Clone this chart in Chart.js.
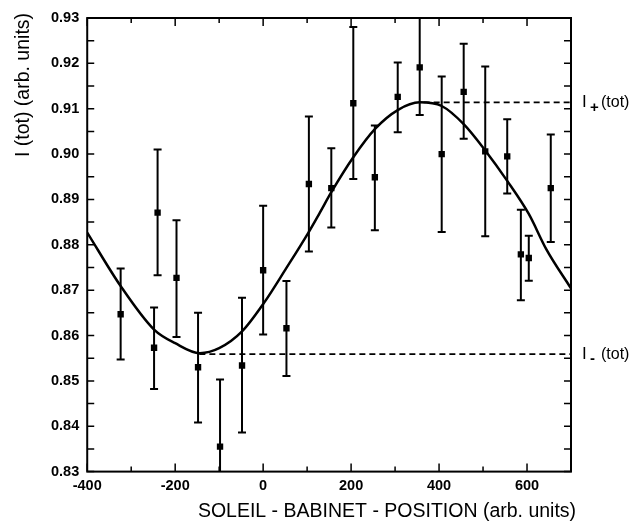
<!DOCTYPE html>
<html>
<head>
<meta charset="utf-8">
<script src="https://cdn.jsdelivr.net/npm/chart.js@4/dist/chart.umd.min.js"></script>
<style>
  html, body { margin: 0; padding: 0; background: #fff; }
  #wrap { width: 639px; height: 523px; }
</style>
</head>
<body>
<div id="wrap"><canvas id="sbChart" width="639" height="523"></canvas></div>
<script>
// measured points (position, I(tot)) with error bar ends
var posX   = [-324, -248, -240, -197, -148, -98, -48, 0, 53, 104, 155, 205, 254, 306, 356, 406, 456, 505, 555, 586, 604, 654];
var iTot   = [0.8647, 0.8573, 0.8871, 0.8727, 0.8530, 0.8355, 0.8534, 0.8744, 0.8616, 0.8934, 0.8925, 0.9112, 0.8949, 0.9126, 0.9191, 0.9000, 0.9137, 0.9006, 0.8995, 0.8779, 0.8771, 0.8925];
var errLow = [0.8547, 0.8482, 0.8733, 0.8597, 0.8408, 0.8205, 0.8386, 0.8602, 0.8511, 0.8785, 0.8838, 0.8945, 0.8832, 0.9048, 0.9086, 0.8828, 0.9034, 0.8819, 0.8913, 0.8678, 0.8721, 0.8806];
var errHigh= [0.8748, 0.8662, 0.9010, 0.8854, 0.8650, 0.8503, 0.8683, 0.8886, 0.8720, 0.9083, 0.9013, 0.9280, 0.9063, 0.9202, 0.9320, 0.9171, 0.9243, 0.9193, 0.9077, 0.8877, 0.8820, 0.9043];

// fitted curve
var fitX = [-400, -324, -248, -200, -144, -100, -48, 2, 53, 103, 129, 155, 205, 255, 306, 356, 406, 456, 505, 555, 604, 644, 700];
var fitY = [0.8827, 0.8709, 0.8613, 0.8583, 0.8561, 0.8572, 0.8609, 0.8672, 0.8749, 0.8827, 0.8871, 0.8916, 0.8993, 0.9056, 0.9097, 0.9114, 0.9106, 0.9066, 0.9008, 0.8941, 0.8868, 0.8790, 0.8704];

// I+(tot) and I-(tot) levels
var levelNames = ['+', '-'];
var levelY     = [0.9114, 0.8559];
var levelFrom  = [365, -145];

var xTicks = [-400, -200, 0, 200, 400, 600];
var yTicks = [0.83, 0.84, 0.85, 0.86, 0.87, 0.88, 0.89, 0.90, 0.91, 0.92, 0.93];

var FONT = "'Liberation Sans', Arial, Helvetica, sans-serif";

function range(a, b, step) {
    var out = [];
    for (var v = a; v <= b + 1e-9; v += step) out.push(Math.round(v * 1000) / 1000);
    return out;
}

var framePlugin = {
    id: 'frame',
    afterDatasetsDraw: function (chart) {
        var c = chart.ctx, a = chart.chartArea;
        var xs = chart.scales.x, ys = chart.scales.y;
        c.save();
        // error bars
        c.beginPath();
        c.rect(a.left, a.top, a.right - a.left, a.bottom - a.top);
        c.clip();
        c.strokeStyle = '#000';
        c.lineWidth = 2;
        for (var i = 0; i < posX.length; i++) {
            var px = xs.getPixelForValue(posX[i]);
            var lo = ys.getPixelForValue(errLow[i]);
            var hi = ys.getPixelForValue(errHigh[i]);
            c.beginPath();
            c.moveTo(px, lo); c.lineTo(px, hi);
            c.moveTo(px - 4, lo); c.lineTo(px + 4, lo);
            c.moveTo(px - 4, hi); c.lineTo(px + 4, hi);
            c.stroke();
        }
        c.restore();

        c.save();
        c.strokeStyle = '#000';
        c.lineWidth = 2;
        c.strokeRect(a.left, a.top, a.right - a.left, a.bottom - a.top);
        c.lineWidth = 1.5;
        c.beginPath();
        range(-400, 700, 100).forEach(function (v) {
            var p = xs.getPixelForValue(v);
            var len = (v % 200 === 0) ? 8 : 5;
            c.moveTo(p, a.bottom); c.lineTo(p, a.bottom - len);
            c.moveTo(p, a.top); c.lineTo(p, a.top + len);
        });
        range(0.83, 0.93, 0.005).forEach(function (v) {
            var p = ys.getPixelForValue(v);
            c.moveTo(a.left, p); c.lineTo(a.left + 7, p);
            c.moveTo(a.right, p); c.lineTo(a.right - 7, p);
        });
        c.stroke();

        // level labels at the right
        c.fillStyle = '#000';
        c.textBaseline = 'middle';
        for (var k = 0; k < levelY.length; k++) {
            var py = ys.getPixelForValue(levelY[k]);
            c.font = '17px ' + FONT;
            c.textAlign = 'left';
            c.fillText('I', a.right + 11, py);
            c.font = 'bold 15px ' + FONT;
            c.fillText(levelNames[k], a.right + 19, py + 5);
            c.font = '16px ' + FONT;
            c.fillText('(tot)', a.right + 30, py);
        }

        // axis titles
        c.font = '19.5px ' + FONT;
        c.textAlign = 'center';
        c.textBaseline = 'middle';
        c.fillText('SOLEIL - BABINET - POSITION (arb. units)', 387, 512);
        c.translate(24, 85);
        c.rotate(-Math.PI / 2);
        c.fillText('I (tot) (arb. units)', 0, 0);
        c.restore();
    }
};

var ctx = document.getElementById('sbChart').getContext('2d');
var chart = new Chart(ctx, {
    type: 'scatter',
    data: {
        datasets: [{
            label: 'data',
            data: posX.map(function (x, i) { return { x: x, y: iTot[i] }; }),
            pointStyle: 'rect',
            pointRadius: 4.5,
            backgroundColor: '#000',
            borderColor: '#000',
            borderWidth: 0,
            order: 0
        }, {
            label: 'fit',
            type: 'line',
            data: fitX.map(function (x, i) { return { x: x, y: fitY[i] }; }),
            borderColor: '#000',
            borderWidth: 2.5,
            pointRadius: 0,
            cubicInterpolationMode: 'monotone',
            fill: false,
            order: 1
        }, {
            label: 'I+',
            type: 'line',
            data: [{ x: levelFrom[0], y: levelY[0] }, { x: 700, y: levelY[0] }],
            borderColor: '#000',
            borderWidth: 1.6,
            borderDash: [6, 4],
            pointRadius: 0,
            order: 2
        }, {
            label: 'I-',
            type: 'line',
            data: [{ x: levelFrom[1], y: levelY[1] }, { x: 700, y: levelY[1] }],
            borderColor: '#000',
            borderWidth: 1.6,
            borderDash: [6, 4],
            pointRadius: 0,
            order: 2
        }]
    },
    options: {
        responsive: false,
        animation: false,
        layout: { padding: { left: 43, right: 68, top: 18, bottom: 22 } },
        plugins: { legend: { display: false }, tooltip: { enabled: false } },
        scales: {
            x: {
                type: 'linear',
                min: -400, max: 700,
                afterBuildTicks: function (s) { s.ticks = xTicks.map(function (v) { return { value: v }; }); },
                grid: { display: false, drawTicks: false },
                border: { display: false },
                ticks: {
                    color: '#000',
                    padding: 6,
                    maxRotation: 0,
                    font: { family: FONT, size: 14.5, weight: 'bold' }
                }
            },
            y: {
                min: 0.83, max: 0.93,
                afterBuildTicks: function (s) { s.ticks = yTicks.map(function (v) { return { value: v }; }); },
                grid: { display: false, drawTicks: false },
                border: { display: false },
                ticks: {
                    color: '#000',
                    padding: 8,
                    font: { family: FONT, size: 14.5, weight: 'bold' },
                    callback: function (v) { return Number(v).toFixed(2); }
                }
            }
        }
    },
    plugins: [framePlugin]
});
</script>
</body>
</html>
